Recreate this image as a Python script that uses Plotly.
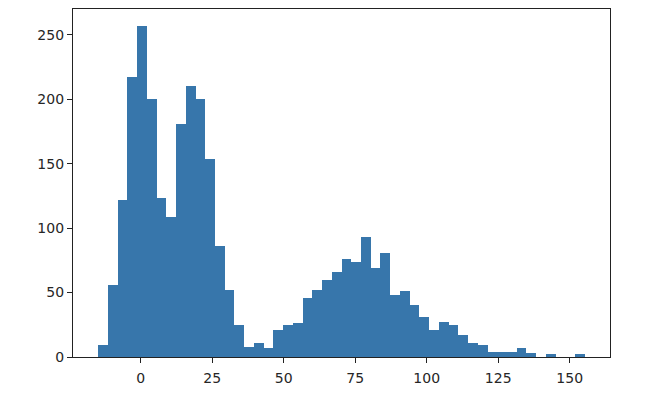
import plotly.graph_objects as go

# Histogram data (50 equal-width bins)
bin_start = -14.9
bin_width = 3.404
counts = [9, 56, 122, 217, 257, 200, 123, 109, 181, 210,
          200, 154, 86, 52, 25, 8, 11, 7, 21, 25,
          26, 46, 52, 60, 66, 76, 74, 93, 69, 81,
          48, 51, 40, 31, 21, 27, 25, 17, 11, 9,
          4, 4, 4, 7, 3, 0, 2, 0, 0, 2]
x_ticks = [0, 25, 50, 75, 100, 125, 150]
y_ticks = [0, 50, 100, 150, 200, 250]

centers = [bin_start + bin_width * (i + 0.5) for i in range(len(counts))]

fig = go.Figure(go.Bar(
    x=centers, y=counts, width=[bin_width] * len(counts),
    marker=dict(color="#3776ab", line=dict(width=0)),
))

axis_common = dict(
    showline=True, linecolor="#222", linewidth=1.2, mirror=True,
    ticks="outside", ticklen=5, tickwidth=1.1, tickcolor="#222",
    showgrid=False, zeroline=False,
    tickfont=dict(family="DejaVu Sans", size=14, color="#262626"),
)

fig.update_layout(
    width=646, height=408,
    margin=dict(l=65, r=44, t=1, b=59),
    paper_bgcolor="white", plot_bgcolor="white",
    bargap=0, showlegend=False,
    xaxis=dict(range=[-23.7, 164.1], tickvals=x_ticks, ticklabelstandoff=3,
               **axis_common),
    yaxis=dict(range=[0, 270], tickvals=y_ticks, **axis_common),
)

fig.write_html("out.html")
